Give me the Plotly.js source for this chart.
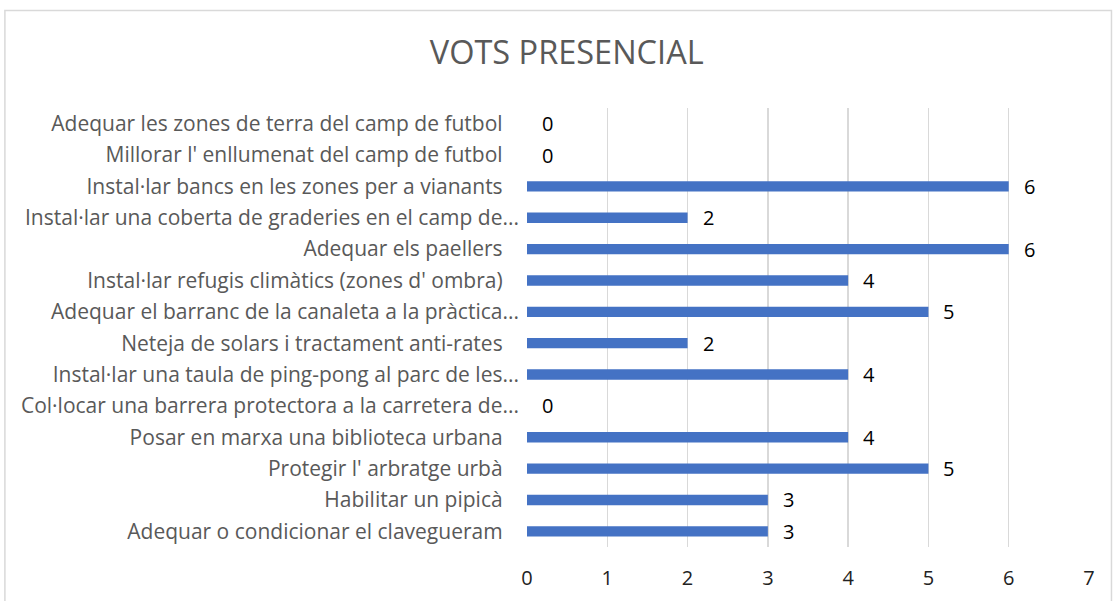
<!DOCTYPE html>
<html>
<head>
<meta charset="utf-8">
<script src="https://cdn.plot.ly/plotly-3.0.1.min.js"></script>
<style>
  html, body { margin: 0; padding: 0; background: #fff; }
  #chart { width: 1120px; height: 601px; }
</style>
</head>
<body>
<div id="chart"></div>
<script>
// Proposals, top to bottom as in the chart
const proposals = [
    "Adequar les zones de terra del camp de futbol",
    "Millorar l' enllumenat del camp de futbol",
    "Instal·lar bancs en les zones per a vianants",
    "Instal·lar una coberta de graderies en el camp de...",
    "Adequar els paellers",
    "Instal·lar refugis climàtics (zones d' ombra)",
    "Adequar el barranc de la canaleta a la pràctica...",
    "Neteja de solars i tractament anti-rates",
    "Instal·lar una taula de ping-pong al parc de les...",
    "Col·locar una barrera protectora a la carretera de...",
    "Posar en marxa una biblioteca urbana",
    "Protegir l' arbratge urbà",
    "Habilitar un pipicà",
    "Adequar o condicionar el clavegueram"
];

// Votes
const votes = [0, 0, 6, 2, 6, 4, 5, 2, 4, 0, 4, 5, 3, 3];

const xTicks = [0, 1, 2, 3, 4, 5, 6, 7];

const fontFamily = '"Open Sans", Lato, sans-serif';

// full labels sit a little further left than the cut ones (like Excel)
const tickText = proposals.map(p => p.endsWith('...') ? p : p + '\u00a0\u00a0\u00a0');

const trace = {
    type: 'bar',
    orientation: 'h',
    x: votes,
    y: proposals,
    marker: { color: '#4472C4', line: { color: '#4472C4', width: 0 } },
    hoverinfo: 'x+y',
};

// value labels next to bar ends
const labels = votes.map((v, i) => ({
    x: v,
    y: proposals[i],
    xref: 'x',
    yref: 'y',
    text: String(v),
    showarrow: false,
    xanchor: 'left',
    yanchor: 'middle',
    xshift: 13,
    font: { family: fontFamily, size: 20, color: '#000' },
}));

const layout = {
    width: 1120,
    height: 601,
    margin: { l: 527, r: 31, t: 108, b: 54 },
    paper_bgcolor: '#fff',
    plot_bgcolor: '#fff',
    font: { family: fontFamily, color: '#595959' },
    title: {
        text: 'VOTS PRESENCIAL',
        font: { family: fontFamily, size: 32.5, color: '#595959' },
        x: 0.506,
        xanchor: 'center',
        y: 0.913,
        yanchor: 'middle',
    },
    bargap: 0.67,
    showlegend: false,
    xaxis: {
        range: [0, 7],
        tickvals: xTicks,
        showgrid: true,
        gridcolor: '#d9d9d9',
        gridwidth: 1.5,
        zeroline: false,
        showline: false,
        ticks: '',
        tickfont: { family: fontFamily, size: 20, color: '#222' },
        ticklabelstandoff: 17,
        fixedrange: true,
    },
    yaxis: {
        autorange: 'reversed',
        tickmode: 'array',
        tickvals: proposals,
        ticktext: tickText,
        showgrid: false,
        zeroline: false,
        showline: false,
        ticks: '',
        tickfont: { family: fontFamily, size: 21, color: '#595959' },
        ticklabelstandoff: 7,
        fixedrange: true,
    },
    annotations: labels,
    shapes: [{
        type: 'rect',
        xref: 'paper', yref: 'paper',
        x0: -0.929, x1: 1.04, y0: -0.2, y1: 1.222,
        line: { color: '#d9d9d9', width: 1.5 },
        fillcolor: 'rgba(0,0,0,0)',
        layer: 'below',
    }],
};

Plotly.newPlot('chart', [trace], layout, { displayModeBar: false, staticPlot: true });
</script>
</body>
</html>
